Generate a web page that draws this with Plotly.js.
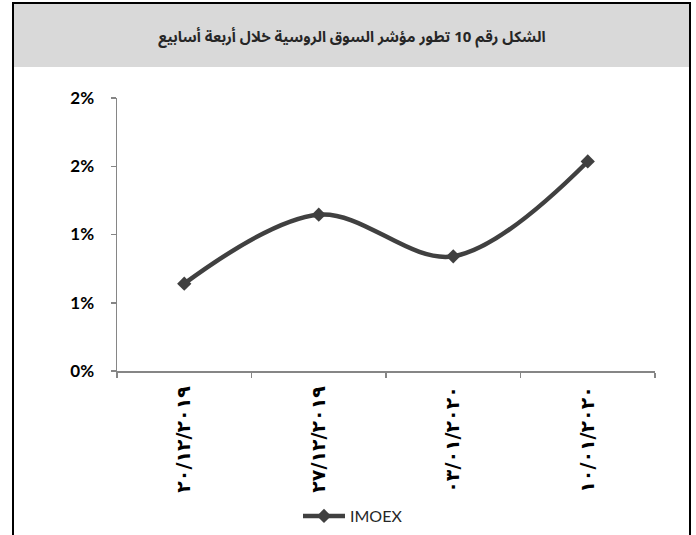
<!DOCTYPE html>
<html>
<head>
<meta charset="utf-8">
<script src="https://cdn.plot.ly/plotly-3.0.1.min.js"></script>
<style>html,body{margin:0;padding:0;background:#fff;}#chart{width:696px;height:535px;}</style>
</head>
<body>
<div id="chart"></div>
<script>
// Data
const chartTitle = "الشكل رقم 10 تطور مؤشر السوق الروسية خلال أربعة أسابيع";
const dates = ["٢٠/١٢/٢٠١٩", "٢٧/١٢/٢٠١٩", "٠٣/٠١/٢٠٢٠", "١٠/٠١/٢٠٢٠"];
const imoexValues = [0.64, 1.145, 0.84, 1.535]; // percent
const seriesName = "IMOEX";
const yTickValues = [0, 0.5, 1, 1.5, 2];
const yTickLabels = ["0%", "1%", "1%", "2%", "2%"];

const trace = {
  type: "scatter",
  mode: "lines+markers",
  x: dates,
  y: imoexValues,
  name: seriesName,
  line: {color: "#404040", width: 4.5, shape: "spline", smoothing: 1},
  marker: {symbol: "diamond", size: 11, color: "#404040"},
  showlegend: true
};

const layout = {
  width: 696,
  height: 535,
  margin: {l: 117, r: 41, t: 98, b: 164, autoexpand: false},
  paper_bgcolor: "#ffffff",
  plot_bgcolor: "#ffffff",
  title: {
    text: chartTitle,
    font: {family: "Noto Sans Arabic, DejaVu Sans, sans-serif", size: 15, color: "#262626", weight: "bold"},
    x: 352 / 696, xref: "container", xanchor: "center",
    y: 1 - 37 / 535, yref: "container", yanchor: "middle"
  },
  xaxis: {
    type: "category",
    range: [-0.5, 3.5],
    automargin: false,
    showgrid: false,
    zeroline: false,
    showline: true,
    linecolor: "#868686",
    linewidth: 1.5,
    ticks: "outside",
    tickson: "boundaries",
    ticklen: 5,
    tickcolor: "#868686",
    tickwidth: 1.5,
    tickangle: -90,
    ticklabelstandoff: 6,
    tickfont: {family: "DejaVu Sans, sans-serif", size: 19, color: "#000000", weight: "bold"}
  },
  yaxis: {
    range: [0, 2],
    automargin: false,
    showgrid: false,
    zeroline: false,
    showline: true,
    linecolor: "#868686",
    linewidth: 1.5,
    ticks: "outside",
    ticklen: 5,
    tickcolor: "#868686",
    tickwidth: 1.5,
    tickvals: yTickValues,
    ticktext: yTickLabels,
    ticklabelstandoff: 13,
    tickfont: {family: "Lato, Open Sans, sans-serif", size: 17, color: "#000000", weight: "bold"}
  },
  legend: {
    orientation: "h",
    x: (298 - 117) / 538,
    xanchor: "left",
    y: (371 - 516) / 273,
    yanchor: "middle",
    itemwidth: 42,
    font: {family: "Lato, sans-serif", size: 16, color: "#262626"},
    bgcolor: "rgba(0,0,0,0)"
  },
  shapes: [
    {type: "rect", xref: "paper", yref: "paper", layer: "below",
     x0: (13 - 117) / 538, x1: (690 - 117) / 538,
     y0: (371 - 67) / 273, y1: (371 - 3) / 273,
     fillcolor: "#d9d9d9", line: {width: 0}},
    {type: "rect", xref: "paper", yref: "paper", layer: "above",
     x0: (13 - 117) / 538, x1: (690 - 117) / 538,
     y0: (371 - 560) / 273, y1: (371 - 3) / 273,
     fillcolor: "rgba(0,0,0,0)", line: {color: "#000000", width: 2}}
  ]
};

Plotly.newPlot("chart", [trace], layout, {displayModeBar: false, staticPlot: true});
</script>
</body>
</html>
